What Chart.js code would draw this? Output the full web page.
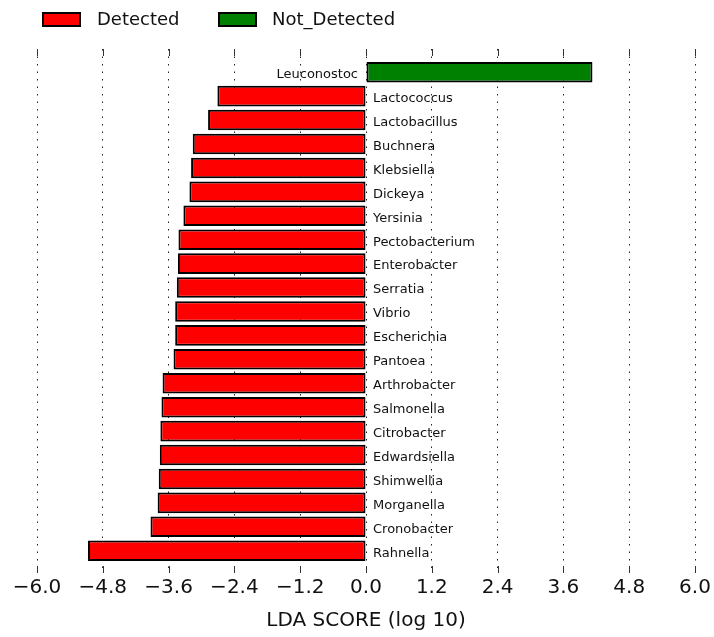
<!DOCTYPE html>
<html>
<head>
<meta charset="utf-8">
<script src="https://cdn.jsdelivr.net/npm/chart.js@4/dist/chart.umd.min.js"></script>
<style>
  html, body { margin: 0; padding: 0; background: #fff; }
  #wrap { width: 714px; height: 637px; position: relative; }
</style>
</head>
<body>
<div id="wrap"><canvas id="lda"></canvas></div>
<script>
// LEfSe result: genera ranked by LDA score, split by group
const taxa = [
  'Leuconostoc', 'Lactococcus', 'Lactobacillus', 'Buchnera', 'Klebsiella',
  'Dickeya', 'Yersinia', 'Pectobacterium', 'Enterobacter', 'Serratia',
  'Vibrio', 'Escherichia', 'Pantoea', 'Arthrobacter', 'Salmonella',
  'Citrobacter', 'Edwardsiella', 'Shimwellia', 'Morganella', 'Cronobacter',
  'Rahnella'
];
const ldaScores = [
  4.13, -2.71, -2.88, -3.16, -3.19,
  -3.22, -3.33, -3.42, -3.43, -3.45,
  -3.48, -3.48, -3.51, -3.71, -3.73,
  -3.75, -3.76, -3.78, -3.80, -3.93,
  -5.07
];
const taxonGroup = [
  'Not_Detected', 'Detected', 'Detected', 'Detected', 'Detected',
  'Detected', 'Detected', 'Detected', 'Detected', 'Detected',
  'Detected', 'Detected', 'Detected', 'Detected', 'Detected',
  'Detected', 'Detected', 'Detected', 'Detected', 'Detected',
  'Detected'
];
const groupNames = ['Detected', 'Not_Detected'];
const xTickValues = [-6.0, -4.8, -3.6, -2.4, -1.2, 0.0, 1.2, 2.4, 3.6, 4.8, 6.0];
const xAxisTitle = 'LDA SCORE (log 10)';

const groupColors = { Detected: '#ff0000', Not_Detected: '#008000' };
const FONT = '"DejaVu Sans", "Liberation Sans", sans-serif';

const datasets = groupNames.map(g => ({
  label: g,
  data: taxa.map((t, i) => ({ x: ldaScores[i], y: i }))
            .filter((p, i) => taxonGroup[i] === g),
  backgroundColor: groupColors[g],
  borderColor: '#000',
  borderWidth: 2,
  borderSkipped: false,
  grouped: false,
  barPercentage: 0.86,
  categoryPercentage: 1.0
}));

// genus names next to the zero line
const taxonLabels = {
  id: 'taxonLabels',
  afterDatasetsDraw(chart) {
    const { ctx, scales: { x, y } } = chart;
    const x0 = x.getPixelForValue(0);
    ctx.save();
    ctx.font = '13px ' + FONT;
    ctx.fillStyle = '#111';
    ctx.textBaseline = 'middle';
    taxa.forEach((name, i) => {
      const py = y.getPixelForValue(i) + 2.5;
      if (ldaScores[i] < 0) {
        ctx.textAlign = 'left';
        ctx.fillText(name, x0 + 7, py);
      } else {
        ctx.textAlign = 'right';
        ctx.fillText(name, x0 - 8, py);
      }
    });
    ctx.restore();
  }
};

// short inward tick marks on top and bottom edges, plus the legend row
const frameExtras = {
  id: 'frameExtras',
  afterDraw(chart) {
    const { ctx, chartArea: a, scales: { x } } = chart;
    ctx.save();
    ctx.strokeStyle = '#333';
    ctx.lineWidth = 1;
    x.ticks.forEach(t => {
      const px = Math.round(x.getPixelForValue(t.value)) + 0.5;
      ctx.beginPath();
      ctx.moveTo(px, a.top); ctx.lineTo(px, a.top + 7);
      ctx.moveTo(px, a.bottom - 7); ctx.lineTo(px, a.bottom);
      ctx.stroke();
    });

    // legend
    const entries = [
      { x: 43, textX: 97 },
      { x: 219, textX: 272 }
    ];
    ctx.font = '18px ' + FONT;
    ctx.textBaseline = 'middle';
    ctx.textAlign = 'left';
    chart.data.datasets.forEach((ds, i) => {
      const e = entries[i];
      ctx.fillStyle = ds.backgroundColor;
      ctx.fillRect(e.x, 13, 37, 13);
      ctx.lineWidth = 2;
      ctx.strokeStyle = '#000';
      ctx.strokeRect(e.x, 13, 37, 13);
      ctx.fillStyle = '#111';
      ctx.fillText(ds.label, e.textX, 20.5);
    });
    ctx.restore();
  }
};

new Chart(document.getElementById('lda'), {
  type: 'bar',
  data: { datasets },
  plugins: [taxonLabels, frameExtras],
  options: {
    indexAxis: 'y',
    responsive: true,
    maintainAspectRatio: false,
    animation: false,
    layout: { padding: { top: 49, left: 37, right: 19, bottom: 4 } },
    plugins: {
      legend: { display: false },
      tooltip: { enabled: false }
    },
    scales: {
      x: {
        type: 'linear',
        min: -6,
        max: 6,
        z: 1,
        afterBuildTicks(axis) {
          axis.ticks = xTickValues.map(v => ({ value: v }));
        },
        grid: { color: '#222', lineWidth: 1, drawTicks: false },
        border: { display: false, dash: [1.5, 6] },
        ticks: {
          padding: 3,
          color: '#111',
          font: { family: FONT, size: 20 },
          maxRotation: 0,
          autoSkip: false,
          callback: v => (v < -1e-9 ? '\u2212' : '') + Math.abs(v).toFixed(1)
        },
        title: {
          display: true,
          text: xAxisTitle,
          color: '#111',
          font: { family: FONT, size: 20 },
          padding: { top: 6, bottom: 0 }
        }
      },
      y: {
        type: 'linear',
        reverse: true,
        offset: false,
        min: -0.97,
        max: 20.93,
        display: false,
        afterBuildTicks(axis) {
          axis.ticks = taxa.map((t, i) => ({ value: i }));
        }
      }
    }
  }
});
</script>
</body>
</html>
